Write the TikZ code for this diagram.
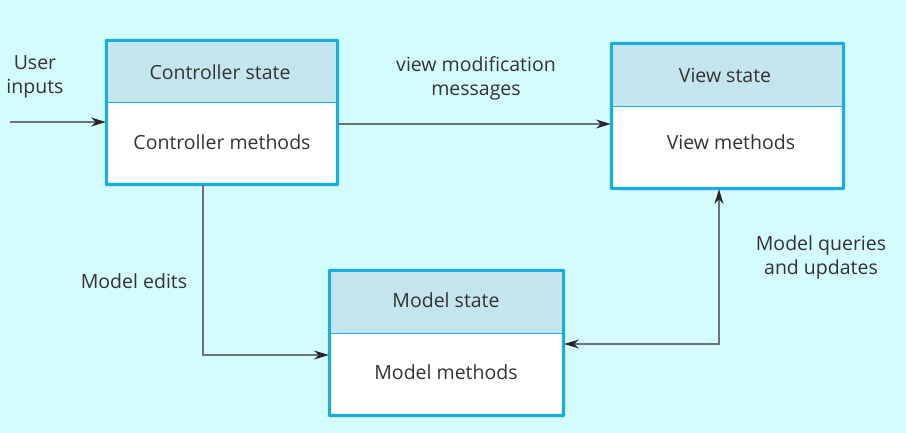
\documentclass[tikz,border=0pt]{standalone}
\usepackage{fontspec}
\setmainfont{Open Sans}
\usetikzlibrary{arrows.meta}
\definecolor{bgc}{HTML}{D4FCFD}
\definecolor{hdr}{HTML}{C4E4EE}
\definecolor{brd}{HTML}{1AAEDF}
\definecolor{lnc}{HTML}{6A7477}
\definecolor{tipc}{HTML}{262626}
\definecolor{txc}{HTML}{333333}
\tikzset{
  x=1pt,y=-1pt,
  box/.style={draw=brd,line width=2.2pt,fill=white,rounded corners=1pt,minimum width=230pt,minimum height=143pt,inner sep=0pt},
  lbl/.style={text=txc,font=\fontsize{19.5}{24}\selectfont,align=center,inner sep=0pt},
  tip/.tip={Stealth[length=15pt,width=9pt,inset=5pt,color=tipc]},
  conn/.style={draw=lnc,line width=1.3pt,-tip},
  conn2/.style={draw=lnc,line width=1.3pt,tip-tip}
}
\begin{document}
\begin{tikzpicture}
\fill[bgc] (0,0) rectangle (906,433);
\useasboundingbox (0,0) rectangle (906,433);
% Controller
\node[box] (ctrl) at (222,112.5) {};
\fill[hdr] (108,42) rectangle (336,102);
\draw[brd,line width=0.8pt] (108,102) -- (336,102);
\draw[brd,line width=2.2pt,rounded corners=1pt] (ctrl.north west) rectangle (ctrl.south east);
\node[lbl] (ctrlS) at (220,72) {Controller state};
\node[lbl] (ctrlM) at (222,142) {Controller methods};
% View
\node[box,minimum width=231pt,minimum height=144pt] (view) at (727.5,116) {};
\fill[hdr] (613,45) rectangle (842,106);
\draw[brd,line width=0.8pt] (613,106) -- (842,106);
\draw[brd,line width=2.2pt,rounded corners=1pt] (view.north west) rectangle (view.south east);
\node[lbl] (viewS) at (725,75) {View state};
\node[lbl] (viewM) at (731,142) {View methods};
% Model
\node[box,minimum width=233pt,minimum height=144pt] (model) at (446.5,343) {};
\fill[hdr] (331,272) rectangle (562,333);
\draw[brd,line width=0.8pt] (331,333) -- (562,333);
\draw[brd,line width=2.2pt,rounded corners=1pt] (model.north west) rectangle (model.south east);
\node[lbl] (modelS) at (446,300) {Model state};
\node[lbl] (modelM) at (446,372) {Model methods};
% labels
\node[lbl] (uin) at (35,77) {User\\inputs};
\node[lbl] (vmm) at (476,78) {view modification\\messages};
\node[lbl] (med) at (134,281) {Model edits};
\node[lbl] (mqu) at (821,257) {Model queries\\and updates};
% connectors
\coordinate (ustart) at (10,122);
\draw[conn] (ustart) -- (ustart -| ctrl.west);
\draw[conn] (ctrl.east |- 0,124) -- (view.west |- 0,124);
\coordinate (c1) at (203,355);
\draw[conn] (ctrl.south -| c1) -- (c1) -- (c1 -| model.west);
\coordinate (c2) at (719,344);
\draw[conn2] (c2 -| model.east) -- (c2) -- (c2 |- view.south);
\end{tikzpicture}
\end{document}
